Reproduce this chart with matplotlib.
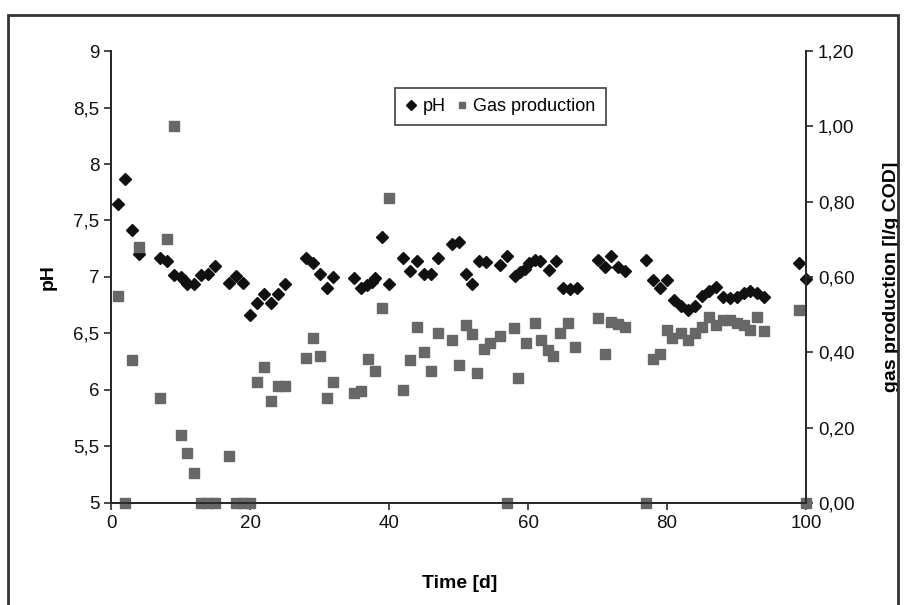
import matplotlib
matplotlib.use('Agg')
import matplotlib.pyplot as plt
from matplotlib.patches import Rectangle

plt.rcParams['font.family'] = ['Liberation Sans', 'DejaVu Sans']

# pH readings
ph_days = [1, 2, 3, 4, 7, 8, 9, 10, 10.5, 11, 12, 13, 14, 15, 17, 18, 19, 20,
           21, 22, 23, 24, 25, 28, 29, 30, 31, 32, 35, 36, 36.8, 37.5, 38, 39,
           40, 42, 43, 44, 45, 46, 47, 49, 50, 51, 52, 53, 54, 56, 57, 58.1,
           58.8, 59.6, 60.2, 61, 61.7, 63, 64, 65, 66, 67, 70, 71, 72, 73, 74,
           77, 78, 79, 80, 81, 82, 83, 84, 85, 86, 87, 88, 89, 90, 91, 92, 93,
           94, 99, 100]
ph = [7.65, 7.87, 7.42, 7.2, 7.17, 7.14, 7.02, 7.0, 6.97, 6.94, 6.94, 7.02,
      7.03, 7.1, 6.95, 7.01, 6.95, 6.66, 6.77, 6.85, 6.77, 6.85, 6.94, 7.17,
      7.12, 7.03, 6.9, 7.0, 6.99, 6.9, 6.93, 6.96, 6.99, 7.35, 6.94, 7.17,
      7.05, 7.14, 7.03, 7.03, 7.17, 7.29, 7.31, 7.03, 6.94, 7.14, 7.13, 7.11,
      7.19, 7.01, 7.04, 7.07, 7.12, 7.15, 7.14, 7.06, 7.14, 6.9, 6.89, 6.9,
      7.15, 7.09, 7.19, 7.09, 7.05, 7.15, 6.97, 6.9, 6.97, 6.8, 6.74, 6.71,
      6.74, 6.83, 6.88, 6.91, 6.82, 6.81, 6.82, 6.86, 6.88, 6.86, 6.82, 7.12,
      6.98]

# gas production readings
gas_days = [1, 2, 3, 4, 7, 8, 9, 10, 11, 12, 13, 14, 15, 17, 18, 19, 20, 21,
            22, 23, 24, 25, 28, 29, 30, 31, 32, 35, 36, 37, 38, 39, 40, 42,
            43, 44, 45, 46, 47, 49, 50, 51, 52, 52.7, 53.6, 54.5, 56, 57, 58,
            58.6, 59.7, 61, 61.8, 62.8, 63.6, 64.6, 65.8, 66.8, 70, 71, 72,
            73, 74, 77, 78, 79, 80, 80.7, 82, 83, 84, 85, 86, 87, 88, 89, 90,
            91, 92, 93, 94, 99, 100]
gas = [0.55, 0.0, 0.38, 0.68, 0.28, 0.70, 1.0, 0.18, 0.134, 0.08, 0.0, 0.0,
       0.0, 0.125, 0.0, 0.0, 0.0, 0.32, 0.36, 0.27, 0.31, 0.31, 0.384, 0.437,
       0.39, 0.28, 0.32, 0.293, 0.298, 0.381, 0.351, 0.517, 0.81, 0.30, 0.38,
       0.468, 0.40, 0.35, 0.452, 0.434, 0.366, 0.472, 0.449, 0.346, 0.408,
       0.424, 0.443, 0.0, 0.464, 0.331, 0.424, 0.479, 0.433, 0.406, 0.39,
       0.452, 0.479, 0.415, 0.49, 0.396, 0.48, 0.475, 0.468, 0.0, 0.381,
       0.396, 0.459, 0.437, 0.45, 0.433, 0.45, 0.466, 0.495, 0.472, 0.486,
       0.486, 0.479, 0.472, 0.459, 0.493, 0.457, 0.512, 0.0]

ph_ticks = [5, 5.5, 6, 6.5, 7, 7.5, 8, 8.5, 9]
ph_labels = ['5', '5,5', '6', '6,5', '7', '7,5', '8', '8,5', '9']
gas_ticks = [0, 0.2, 0.4, 0.6, 0.8, 1.0, 1.2]
gas_labels = ['0,00', '0,20', '0,40', '0,60', '0,80', '1,00', '1,20']
x_ticks = [0, 20, 40, 60, 80, 100]

fig = plt.figure(figsize=(9.05, 6.05), dpi=100)
ax = fig.add_axes([0.1227, 0.1686, 0.768, 0.7471])
ax2 = ax.twinx()

spine_col = '#2a2a2a'
for a in (ax, ax2):
    a.spines['top'].set_visible(False)
    for s in ('left', 'right', 'bottom'):
        a.spines[s].set_color(spine_col)
        a.spines[s].set_linewidth(1.4)
    a.tick_params(direction='out', length=5, width=1.2, colors=spine_col,
                  labelsize=13.5, labelcolor='#111111')

p1, = ax.plot(ph_days, ph, linestyle='none', marker='D', ms=6.6,
              color='#111111', label='pH', zorder=3, clip_on=False)
p2, = ax2.plot(gas_days, gas, linestyle='none', marker='s', ms=6.5,
               color='#676767', label='Gas production', zorder=2, clip_on=False)

ax.set_xlim(0, 100)
ax.set_ylim(5, 9)
ax2.set_ylim(0, 1.2)
ax.set_xticks(x_ticks)
ax.set_yticks(ph_ticks)
ax.set_yticklabels(ph_labels)
ax2.set_yticks(gas_ticks)
ax2.set_yticklabels(gas_labels)

ax.set_xlabel('Time [d]', fontsize=14, fontweight='bold')
ax.set_ylabel('pH', fontsize=14, fontweight='bold')
ax2.set_ylabel('gas production [l/g COD]', fontsize=14, fontweight='bold')
ax.xaxis.set_label_coords(0.502, -0.16)
ax.yaxis.set_label_coords(-0.078, 0.5)
ax2.yaxis.set_label_coords(1.111, 0.5)

leg = ax2.legend(handles=[p1, p2], loc='upper left', bbox_to_anchor=(0.409, 0.918),
                 ncol=2, fontsize=13, frameon=True, fancybox=False,
                 borderaxespad=0, handlelength=0.6, handletextpad=0.35,
                 columnspacing=0.6, borderpad=0.55, markerscale=0.75)
leg.get_frame().set_edgecolor('#222222')
leg.get_frame().set_linewidth(1.3)

fig.patches.append(Rectangle((0.0088, -0.02), 0.983, 0.995, transform=fig.transFigure,
                             fill=False, edgecolor='#333333', linewidth=2))

fig.savefig('out.png', dpi=100)
